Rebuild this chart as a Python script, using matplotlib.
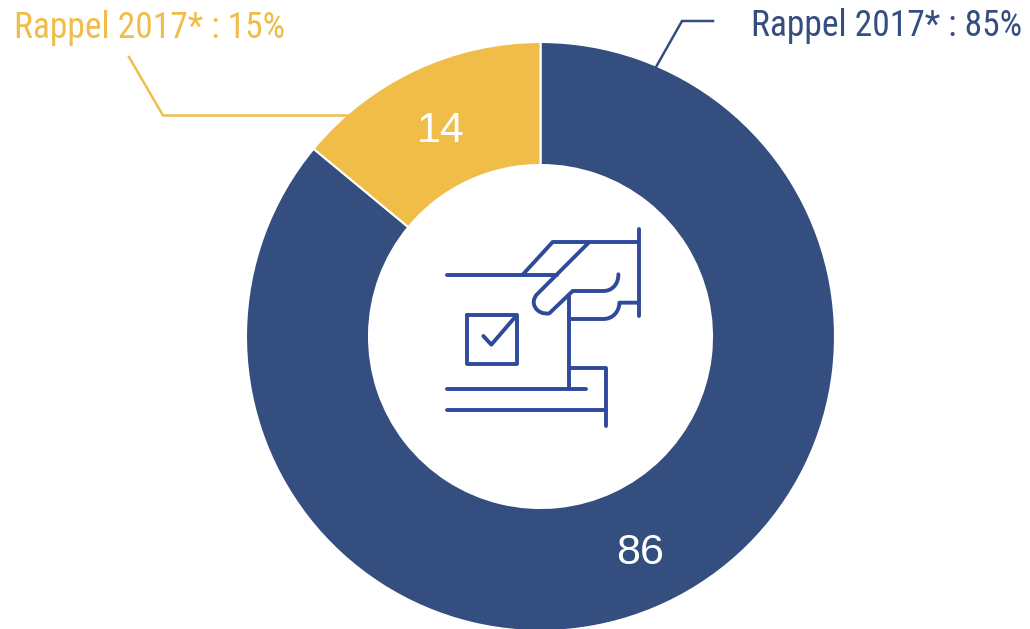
import matplotlib
matplotlib.use('Agg')
import matplotlib.pyplot as plt
from matplotlib.patches import PathPatch
from matplotlib.path import Path

# Share of each answer, clockwise from the top
values = [86, 14]
colors = ['#344e80', '#f0bd49']
value_labels = ['86', '14']
recall_labels = ['Rappel 2017* : 85%', 'Rappel 2017* : 15%']

WIDTH, HEIGHT = 1030, 629
ICON_COLOR = '#2f4a9b'

plt.rcParams['font.family'] = ['Roboto Condensed', 'Roboto', 'Liberation Sans']


def flip(x, y):
    # picture coordinates have y going down
    return x, HEIGHT - y


def icon_xy(x, y):
    # icon was measured on a 3x crop starting at (430, 210)
    return flip(430 + x / 3, 210 + y / 3)


def icon_path(ax, points, codes=None):
    verts = [icon_xy(x, y) for x, y in points]
    if codes is None:
        codes = [Path.MOVETO] + [Path.LINETO] * (len(verts) - 1)
    ax.add_patch(PathPatch(Path(verts, codes), fill=False, edgecolor=ICON_COLOR,
                           linewidth=2.8, capstyle='round', joinstyle='round'))


fig = plt.figure(figsize=(WIDTH / 100, HEIGHT / 100), dpi=100)
ax = fig.add_axes([0, 0, 1, 1])

ax.pie(values, colors=colors, startangle=90, counterclock=False,
       center=flip(540.5, 336.5), radius=294.5,
       wedgeprops=dict(width=123, edgecolor='white', linewidth=1.5))

ax.set_xlim(0, WIDTH)
ax.set_ylim(0, HEIGHT)
ax.set_aspect('equal')
ax.axis('off')

# Values on the ring
ax.text(*flip(640, 564.5), value_labels[0], color='white', fontsize=31,
        family=['Liberation Sans'], ha='center', va='baseline')
ax.text(*flip(441, 141.5), value_labels[1], color='white', fontsize=31,
        family=['Liberation Sans'], ha='center', va='baseline')

# 2017 recall labels and their leader lines
ax.text(*flip(1022.5, 35.5), recall_labels[0], color=colors[0], fontsize=25.6,
        ha='right', va='baseline')
ax.text(*flip(285, 38), recall_labels[1], color=colors[1], fontsize=25.6,
        ha='right', va='baseline')

leader_x, leader_y = zip(*[flip(656, 67), flip(682, 21), flip(713, 21)])
ax.plot(leader_x, leader_y, color=colors[0], linewidth=1.8)
leader_x, leader_y = zip(*[flip(129, 57), flip(163, 115.5), flip(349, 115.5)])
ax.plot(leader_x, leader_y, color=colors[1], linewidth=1.8)

# Ballot icon in the middle of the ring
icon_path(ax, [(50, 194), (380, 194)])
icon_path(ax, [(278, 194), (368, 96), (625, 96)])
icon_path(ax, [(626, 58), (626, 318)])
icon_path(ax, [(478, 96), (322, 252), (296, 278), (320, 316), (358, 310),
               (428, 243), (520, 243), (548, 243), (566, 220), (565, 193)],
          [Path.MOVETO, Path.LINETO, Path.CURVE4, Path.CURVE4, Path.CURVE4,
           Path.LINETO, Path.LINETO, Path.CURVE4, Path.CURVE4, Path.CURVE4])
icon_path(ax, [(626, 278), (568, 278), (568, 305), (548, 327), (520, 327), (417, 327)],
          [Path.MOVETO, Path.LINETO, Path.CURVE4, Path.CURVE4, Path.CURVE4, Path.LINETO])
icon_path(ax, [(417, 255), (417, 535)])
icon_path(ax, [(417, 475), (527, 475), (527, 648)])
icon_path(ax, [(50, 537), (468, 537)])
icon_path(ax, [(50, 599), (527, 599)])
icon_path(ax, [(112, 316), (260, 316), (260, 463), (112, 463), (112, 316)])
icon_path(ax, [(160, 378), (184, 404), (258, 318)])

fig.savefig('out.png', dpi=100, facecolor='white')
